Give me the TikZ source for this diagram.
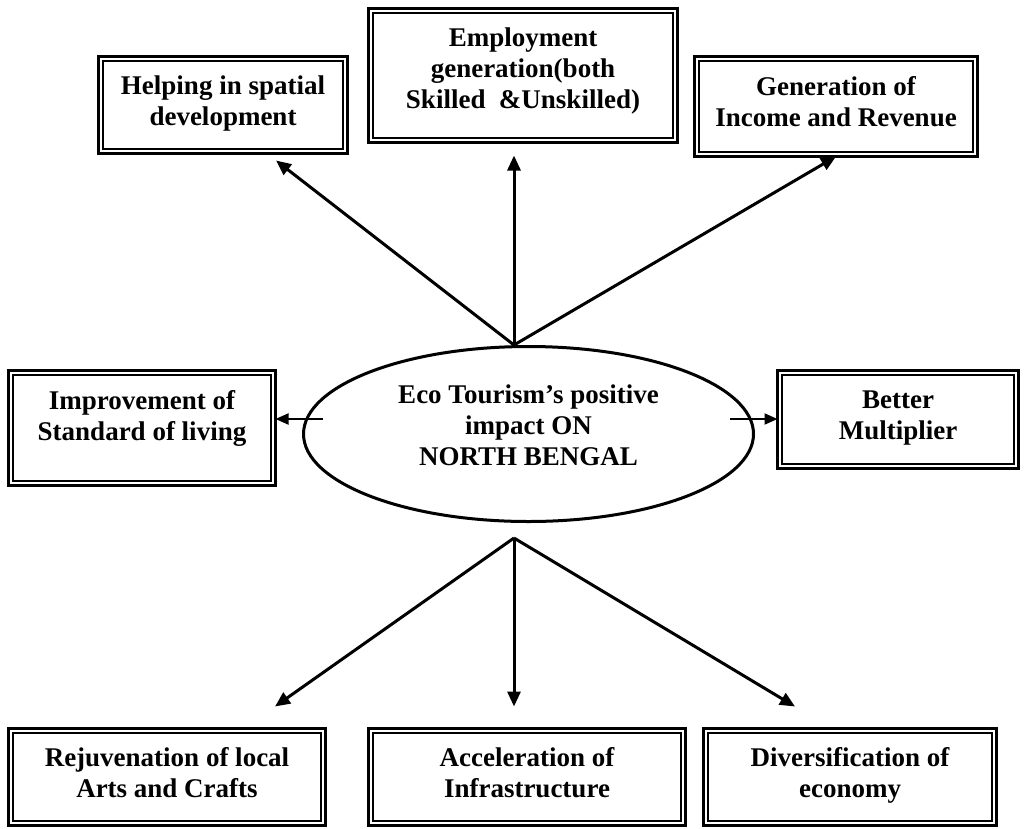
\documentclass[tikz,border=0pt]{standalone}
\usepackage{fontspec}
\setmainfont{Liberation Serif}
\usetikzlibrary{shapes.geometric,arrows.meta,calc}
\begin{document}
\begin{tikzpicture}[x=1pt,y=-1pt,
  lbl/.style={font=\fontsize{27}{31}\selectfont\bfseries,align=center,
    execute at begin node=\strut,execute at end node=\strut},
  box/.style={draw,line width=3pt,inner sep=0pt,outer sep=0pt,lbl},
  inbox/.style={line width=1.5pt},
  hub/.style={draw,ellipse,line width=3pt,inner sep=0pt,outer sep=0pt,lbl,
    execute at end node={\strut\rule[-17pt]{0pt}{0pt}}},
  arr/.style={line width=3pt,-{Triangle[length=15pt,width=13pt]}},
  sidearr/.style={line width=2pt,-{Triangle[length=13pt,width=11pt]}}]
\useasboundingbox (0,0) rectangle (1024,828);
\fill[white] (0,0) rectangle (1024,828);

% boxes
\node[box,minimum width=249pt,minimum height=97pt] (b1) at (223,105) {Helping in spatial\\development};
\node[box,minimum width=309pt,minimum height=134pt,
  execute at end node={\strut\rule[-15pt]{0pt}{0pt}}] (b2) at (523,75.5) {Employment\\generation(both\\Skilled\ \ \&Unskilled)};
\node[box,minimum width=283pt,minimum height=100pt] (b3) at (836,106.5) {Generation of\\Income and Revenue};
\node[box,minimum width=267pt,minimum height=115pt] (b4) at (142,428) {};
\node[lbl,inner sep=0pt] (t4) at (142,420) {Improvement of\\Standard of living};
\node[box,minimum width=241pt,minimum height=98pt] (b5) at (898,419.5) {Better\\Multiplier};
\node[box,minimum width=317pt,minimum height=97pt] (b6) at (167,777) {Rejuvenation of local\\Arts and Crafts};
\node[box,minimum width=317pt,minimum height=97pt] (b7) at (527,777) {Acceleration of\\Infrastructure};
\node[box,minimum width=293pt,minimum height=97pt] (b8) at (850,777) {Diversification of\\economy};
\foreach \n in {b1,b2,b3,b4,b5,b6,b7,b8}
  \draw[inbox] ([shift={(4.5pt,4.5pt)}]\n.south west) rectangle ([shift={(-4.5pt,-4.5pt)}]\n.north east);

% hub
\node[hub,minimum width=450pt,minimum height=175pt] (e) at (528.5,434) {Eco Tourism’s positive\\impact ON\\NORTH BENGAL};
\coordinate (etop) at (514,345);
\coordinate (ebot) at (514,538);
\coordinate (lt) at (323,419);
\coordinate (rt) at (730,419);

% connectors
\draw[arr] (etop) -- ([xshift=53pt,yshift=-7pt]b1.south);
\draw[arr,shorten >=13pt] (etop) -- (etop |- b2.south);
\draw[arr] (etop) -- (b3.south);
\draw[sidearr] (lt) -- (lt -| b4.east);
\draw[sidearr] (rt) -- (rt -| b5.west);
\draw[arr] (ebot) -- ([xshift=108pt,yshift=22pt]b6.north);
\draw[arr,shorten >=22pt] (ebot) -- (ebot |- b7.north);
\draw[arr] (ebot) -- ([xshift=-55pt,yshift=22pt]b8.north);
\end{tikzpicture}
\end{document}
